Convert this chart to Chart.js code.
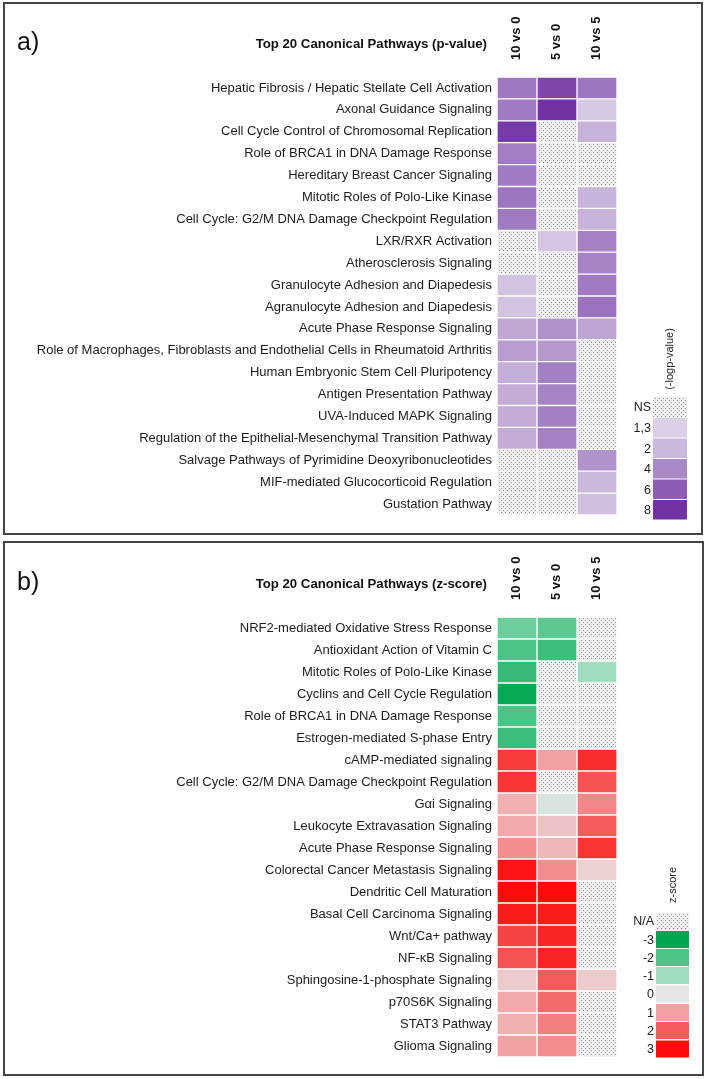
<!DOCTYPE html>
<html>
<head>
<meta charset="utf-8">
<script src="https://cdn.jsdelivr.net/npm/chart.js@4.4.1/dist/chart.umd.min.js"></script>
<style>
  html, body { margin: 0; padding: 0; background: #fff; }
  body { width: 706px; height: 1079px; position: relative; overflow: hidden; }
  .wrap { position: absolute; left: 0; width: 706px; }
  .frame { position: absolute; border: 2px solid #444; pointer-events: none; }
</style>
</head>
<body>
<div class="wrap" style="top:0;height:540px"><canvas id="chart-pvalue"></canvas></div>
<div class="wrap" style="top:540px;height:539px"><canvas id="chart-zscore"></canvas></div>
<div class="frame" style="left:3px;top:2px;width:696px;height:529px"></div>
<div class="frame" style="left:3px;top:541px;width:697px;height:531px"></div>
<script>
// column headers
const comparisons = ["10 vs 0", "5 vs 0", "10 vs 5"];

// panel a) -log(p-value), null = NS
const pathwaysA = [
  "Hepatic Fibrosis / Hepatic Stellate Cell Activation",
  "Axonal Guidance Signaling",
  "Cell Cycle Control of Chromosomal Replication",
  "Role of BRCA1 in DNA Damage Response",
  "Hereditary Breast Cancer Signaling",
  "Mitotic Roles of Polo-Like Kinase",
  "Cell Cycle: G2/M DNA Damage Checkpoint Regulation",
  "LXR/RXR Activation",
  "Atherosclerosis Signaling",
  "Granulocyte Adhesion and Diapedesis",
  "Agranulocyte Adhesion and Diapedesis",
  "Acute Phase Response Signaling",
  "Role of Macrophages, Fibroblasts and Endothelial Cells in Rheumatoid Arthritis",
  "Human Embryonic Stem Cell Pluripotency",
  "Antigen Presentation Pathway",
  "UVA-Induced MAPK Signaling",
  "Regulation of the Epithelial-Mesenchymal Transition Pathway",
  "Salvage Pathways of Pyrimidine Deoxyribonucleotides",
  "MIF-mediated Glucocorticoid Regulation",
  "Gustation Pathway"
];
const logp10v0 = [4.7, 4.6, 7.6, 4.5, 4.6, 4.8, 4.6, null, null, 1.7, 1.7, 2.7, 3.2, 2.4, 2.5, 2.5, 2.5, null, null, null];
const logp5v0  = [7.0, 8.0, null, null, null, null, null, 1.6, null, null, null, 3.6, 3.3, 4.4, 4.2, 4.4, 4.3, null, null, null];
const logp10v5 = [4.8, 1.5, 2.3, null, null, 2.2, 2.2, 4.3, 4.2, 4.6, 5.0, 2.8, null, null, null, null, null, 3.5, 2.0, 1.8];
const logpLegendLabels = ["NS", "1,3", "2", "4", "6", "8"];
const logpLegendValues = [null, 1.3, 2, 4, 6, 8];

// panel b) activation z-score, null = N/A
const pathwaysB = [
  "NRF2-mediated Oxidative Stress Response",
  "Antioxidant Action of Vitamin C",
  "Mitotic Roles of Polo-Like Kinase",
  "Cyclins and Cell Cycle Regulation",
  "Role of BRCA1 in DNA Damage Response",
  "Estrogen-mediated S-phase Entry",
  "cAMP-mediated signaling",
  "Cell Cycle: G2/M DNA Damage Checkpoint Regulation",
  "Gαi Signaling",
  "Leukocyte Extravasation Signaling",
  "Acute Phase Response Signaling",
  "Colorectal Cancer Metastasis Signaling",
  "Dendritic Cell Maturation",
  "Basal Cell Carcinoma Signaling",
  "Wnt/Ca+ pathway",
  "NF-κB Signaling",
  "Sphingosine-1-phosphate Signaling",
  "p70S6K Signaling",
  "STAT3 Pathway",
  "Glioma Signaling"
];
const z10v0 = [-1.6, -2.0, -2.3, -2.9, -2.0, -2.2, 2.4, 2.5, 0.8, 0.9, 1.3, 2.9, 3.0, 2.8, 2.3, 2.1, 0.4, 0.9, 0.8, 1.0];
const z5v0  = [-1.8, -2.2, null, null, null, null, 1.0, null, -0.2, 0.5, 0.7, 1.3, 3.0, 2.8, 2.7, 2.7, 2.0, 1.8, 1.5, 1.3];
const z10v5 = [null, null, -1.0, null, null, null, 2.6, 2.1, 1.4, 2.0, 2.5, 0.3, null, null, null, null, 0.4, null, null, null];
const zLegendLabels = ["N/A", "-3", "-2", "-1", "0", "1", "2", "3"];
const zLegendValues = [null, -3, -2, -1, 0, 1, 2, 3];

// colour ramps
const purpleStops = [[1.3, "#dbd0e6"], [2, "#cbb9dc"], [4, "#a988c6"], [6, "#8c5cb6"], [8, "#7232a2"]];
const zStops = [[-3, "#00a651"], [-2, "#4cc387"], [-1, "#a0dcbf"], [0, "#e6e6e6"], [1, "#f2a2a5"], [2, "#f45b5b"], [3, "#fe0c0c"]];

function hexRgb(h) {
  return [parseInt(h.slice(1, 3), 16), parseInt(h.slice(3, 5), 16), parseInt(h.slice(5, 7), 16)];
}
function ramp(stops, v) {
  if (v <= stops[0][0]) return stops[0][1];
  for (let i = 1; i < stops.length; i++) {
    if (v <= stops[i][0]) {
      const t = (v - stops[i - 1][0]) / (stops[i][0] - stops[i - 1][0]);
      const a = hexRgb(stops[i - 1][1]), b = hexRgb(stops[i][1]);
      const c = a.map((x, k) => Math.round(x + (b[k] - x) * t));
      return "rgb(" + c.join(",") + ")";
    }
  }
  return stops[stops.length - 1][1];
}

// dotted fill for non significant / not available
function dotPattern(ctx) {
  const p = document.createElement("canvas");
  p.width = 4; p.height = 4;
  const g = p.getContext("2d");
  g.fillStyle = "#f0f0f0";
  g.fillRect(0, 0, 4, 4);
  g.fillStyle = "#8c8c8c";
  g.fillRect(1, 0, 1, 1);
  g.fillRect(3, 2, 1, 1);
  return ctx.createPattern(p, "repeat");
}

const FONT = "'Liberation Sans', Arial, sans-serif";

const panelText = {
  id: "panelText",
  afterDraw(chart, args, opts) {
    const ctx = chart.ctx;
    ctx.save();
    ctx.fillStyle = "#111";
    ctx.textBaseline = "middle";
    ctx.font = "25px " + FONT;
    ctx.textAlign = "left";
    ctx.fillText(opts.letter, 17, opts.titleY);
    ctx.font = "bold 13.2px " + FONT;
    ctx.textAlign = "right";
    ctx.fillText(opts.title, 487, opts.titleY + 1);

    // colour key
    const L = opts.legend;
    L.values.forEach((v, i) => {
      const y = L.rows[i][0], h = L.rows[i][1];
      ctx.fillStyle = v === null ? opts.pattern : ramp(opts.stops, v);
      ctx.fillRect(L.x, y, L.w, h);
      ctx.fillStyle = "#222";
      ctx.font = "12.5px " + FONT;
      ctx.textAlign = "right";
      ctx.fillText(L.labels[i], L.x - 2, y + h / 2 + 1);
    });
    ctx.translate(L.titleX, L.titleY);
    ctx.rotate(-Math.PI / 2);
    ctx.textAlign = "center";
    ctx.font = "11px " + FONT;
    ctx.fillStyle = "#222";
    ctx.fillText(L.title, 0, 0);
    ctx.restore();
  }
};

function heatmap(canvasId, rows, cols, letter, title, stops, legend, bottomPad) {
  const canvas = document.getElementById(canvasId);
  const ctx = canvas.getContext("2d");
  const pattern = dotPattern(ctx);
  const datasets = cols.map((vals, c) => ({
    label: comparisons[c],
    data: rows.map(() => [c, c + 1]),
    backgroundColor: vals.map((v) => (v === null ? pattern : ramp(stops, v))),
    borderColor: "#ffffff",
    borderWidth: 1,
    borderSkipped: false,
    barPercentage: 1,
    categoryPercentage: 1,
    grouped: false
  }));
  return new Chart(ctx, {
    type: "bar",
    plugins: [panelText],
    data: { labels: rows, datasets: datasets },
    options: {
      indexAxis: "y",
      responsive: true,
      maintainAspectRatio: false,
      animation: false,
      layout: { padding: { left: 0, right: 89, top: 0, bottom: bottomPad } },
      plugins: {
        legend: { display: false },
        tooltip: { enabled: false },
        panelText: { letter: letter, title: title, titleY: 43, stops: stops, legend: legend, pattern: pattern }
      },
      scales: {
        x: {
          type: "linear",
          position: "top",
          min: 0,
          max: 3,
          grid: { display: false, drawTicks: false },
          border: { display: false },
          // rotated labels are drawn left of the tick, so nudge the ticks right
          afterBuildTicks(scale) {
            scale.ticks = comparisons.map((_, i) => ({ value: i + 0.87 }));
          },
          afterFit(scale) { scale.height = 77; },
          ticks: {
            minRotation: 90,
            maxRotation: 90,
            padding: 17,
            color: "#111",
            font: { size: 13, weight: "bold", family: FONT },
            callback: function (value) {
              return comparisons[Math.floor(value)];
            }
          }
        },
        y: {
          type: "category",
          grid: { display: false, drawTicks: false },
          border: { display: false },
          afterFit(scale) { scale.width = 497; },
          ticks: {
            autoSkip: false,
            padding: 5,
            color: "#1c1c1c",
            font: { size: 13, family: FONT }
          }
        }
      }
    }
  });
}

heatmap("chart-pvalue", pathwaysA, [logp10v0, logp5v0, logp10v5], "a)",
  "Top 20 Canonical Pathways (p-value)", purpleStops,
  {
    x: 653, w: 34, values: logpLegendValues, labels: logpLegendLabels,
    rows: [[397, 20], [418, 19.5], [438.5, 19.5], [459, 19.5], [479.5, 19.5], [500, 19.5]],
    title: "(-logp-value)", titleX: 670, titleY: 359
  }, 25);

heatmap("chart-zscore", pathwaysB, [z10v0, z5v0, z10v5], "b)",
  "Top 20 Canonical Pathways (z-score)", zStops,
  {
    x: 656, w: 33, values: zLegendValues, labels: zLegendLabels,
    rows: [[373, 16], [391, 17], [409, 17], [427, 17], [445.5, 17], [464, 17], [482, 17], [500.5, 17]],
    title: "z-score", titleX: 673, titleY: 345
  }, 22);
</script>
</body>
</html>
